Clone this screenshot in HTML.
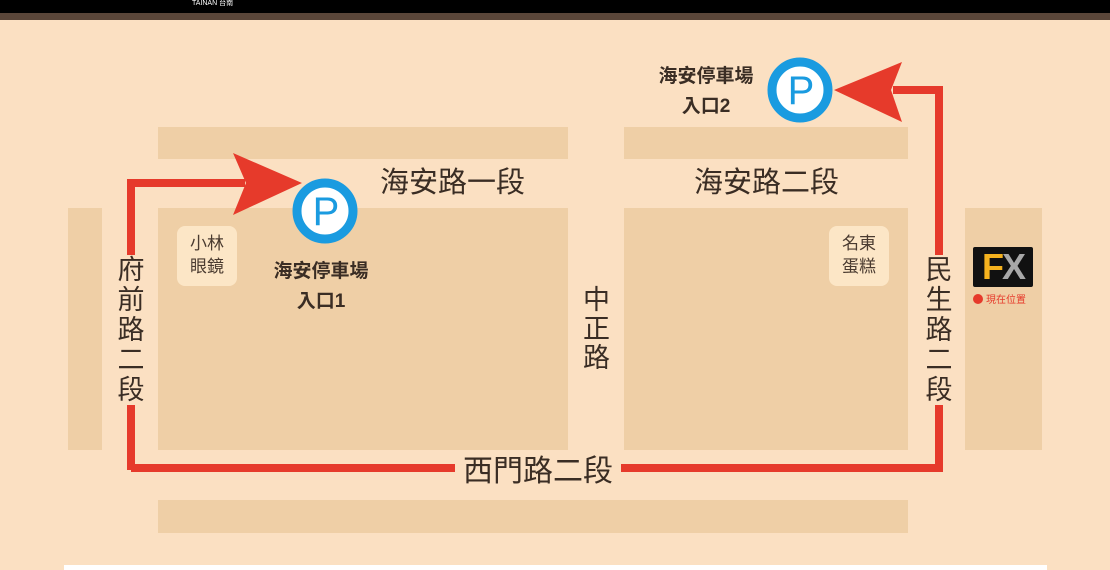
<!DOCTYPE html>
<html><head><meta charset="utf-8"><style>
body{margin:0;width:1110px;height:570px;overflow:hidden;background:#fbe0c2;position:relative;font-family:"Liberation Sans","Noto Sans CJK TC",sans-serif;color:#3a2d24}
.b{position:absolute;background:#efcfa6}
.t{position:absolute;white-space:nowrap;line-height:1}
.v{position:absolute;width:30px;text-align:center;font-size:27px;line-height:30px;background:#fbe0c2}
</style></head><body>
<div style="position:absolute;left:0;top:0;width:1110px;height:13px;background:#000"></div>
<div style="position:absolute;left:0;top:13px;width:1110px;height:7px;background:#5a4639"></div>
<div class="t" style="left:192px;top:0;font-size:7px;color:#fff">TAINAN 台南</div>
<div class="b" style="left:158px;top:127px;width:410px;height:32px"></div>
<div class="b" style="left:624px;top:127px;width:284px;height:32px"></div>
<div class="b" style="left:158px;top:208px;width:410px;height:242px"></div>
<div class="b" style="left:624px;top:208px;width:284px;height:242px"></div>
<div class="b" style="left:68px;top:208px;width:34px;height:242px"></div>
<div class="b" style="left:965px;top:208px;width:77px;height:242px"></div>
<div class="b" style="left:158px;top:500px;width:750px;height:33px"></div>
<div style="position:absolute;left:64px;top:565px;width:983px;height:5px;background:#fff"></div>
<svg style="position:absolute;left:0;top:0" width="1110" height="570">
<g fill="none" stroke="#e63a2b" stroke-width="8">
<polyline points="131,470 131,183 245,183"/>
<polyline points="131,468 939,468 939,90 893,90"/>
</g>
<polygon fill="#e63a2b" points="233,153 302,183 233,215 246,183"/>
<polygon fill="#e63a2b" points="902,62 834,90 902,122 891,90"/>
<circle cx="325" cy="211" r="28" fill="#fff" stroke="#1a9be0" stroke-width="9"/>
<circle cx="800" cy="90" r="28" fill="#fff" stroke="#1a9be0" stroke-width="9"/>
<text x="326" y="225" font-size="40" fill="#1a9be0" text-anchor="middle" font-family="Liberation Sans">P</text>
<text x="801" y="104" font-size="40" fill="#1a9be0" text-anchor="middle" font-family="Liberation Sans">P</text>
</svg>
<div class="v" style="left:116px;top:255px">府<br>前<br>路<br>二<br>段</div>
<div class="v" style="left:924px;top:255px">民<br>生<br>路<br>二<br>段</div>
<div class="t" style="left:583px;top:286px;font-size:27px;line-height:29px;text-align:center">中<br>正<br>路</div>
<div class="t" style="left:455px;top:457px;font-size:30px;padding:0 8px;background:#fbe0c2">西門路二段</div>
<div class="t" style="left:380px;top:169px;font-size:29px">海安路一段</div>
<div class="t" style="left:694px;top:169px;font-size:29px">海安路二段</div>
<div style="position:absolute;left:177px;top:226px;width:60px;height:60px;background:#fce6c6;border-radius:8px;font-size:17px;line-height:23px;text-align:center;padding-top:6px;box-sizing:border-box;color:#4a3b30">小林<br>眼鏡</div>
<div style="position:absolute;left:829px;top:226px;width:60px;height:60px;background:#fce6c6;border-radius:8px;font-size:17px;line-height:23px;text-align:center;padding-top:6px;box-sizing:border-box;color:#4a3b30">名東<br>蛋糕</div>
<div class="t" style="left:261px;top:257px;width:120px;text-align:center;font-size:19px;font-weight:bold;line-height:30px">海安停車場<br>入口1</div>
<div class="t" style="left:646px;top:62px;width:120px;text-align:center;font-size:19px;font-weight:bold;line-height:30px">海安停車場<br>入口2</div>
<div style="position:absolute;left:973px;top:247px;width:60px;height:40px;background:#111;border-radius:2px;font:bold 36px/40px 'Liberation Sans',sans-serif;text-align:center;letter-spacing:-2px"><span style="color:#f5b21e">F</span><span style="color:#a8a8a8">X</span></div>
<div class="t" style="left:973px;top:294px;font-size:10px;color:#e63a2b"><span style="display:inline-block;width:10px;height:10px;border-radius:50%;background:#e63a2b;vertical-align:-1px;margin-right:3px"></span>現在位置</div>
</body></html>
